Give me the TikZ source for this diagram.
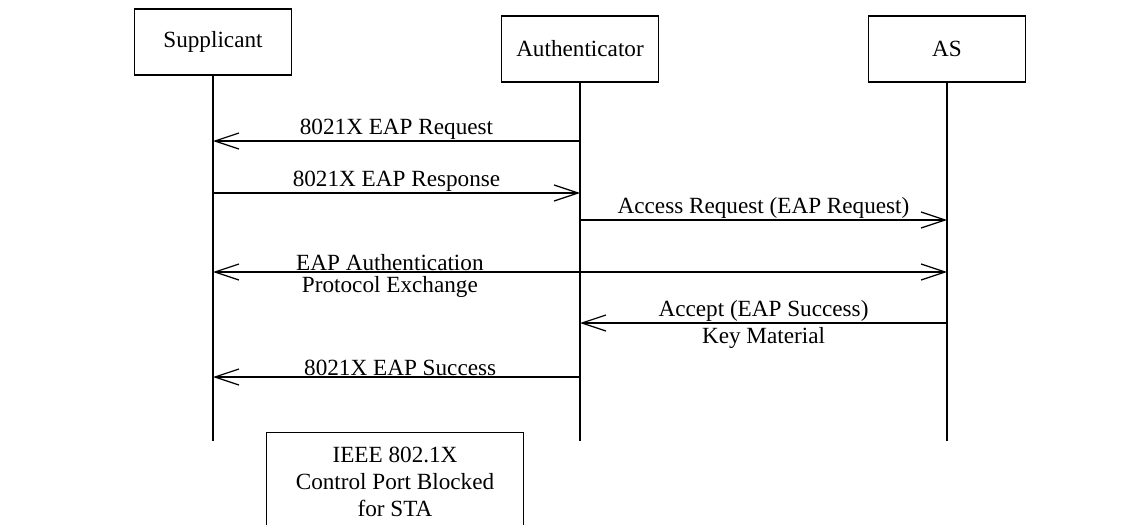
\documentclass[tikz,border=0pt]{standalone}
\usepackage{fontspec}
\setmainfont{Liberation Serif}
\usetikzlibrary{arrows.meta}
\usetikzlibrary{positioning}
\tikzset{
  actor/.style={draw, line width=0.7pt, minimum width=3.14cm, minimum height=1.32cm, font=\fontsize{13.2}{15.3}\selectfont},
  life/.style={line width=0.7pt},
  msg/.style={line width=0.7pt, -{Straight Barb[length=4.8mm,width=3.2mm]}},
  dmsg/.style={line width=0.7pt, {Straight Barb[length=4.8mm,width=3.2mm]}-{Straight Barb[length=4.8mm,width=3.2mm]}},
  up/.style={font=\fontsize{13.2}{15.3}\selectfont, inner sep=0.5pt, above},
  down/.style={font=\fontsize{13.2}{15.3}\selectfont, inner sep=2pt, below}
}

\begin{document}
\begin{tikzpicture}[x=0.02cm, y=-0.02cm]
\clip (0,0) rectangle (1145,524);
% the three parties
\node[actor] (sup) at (213,42) {Supplicant};
\node[actor] (auth) at (580,49) {Authenticator};
\node[actor] (as) at (947,49) {AS};
\coordinate (supend) at (213,441);
\coordinate (authend) at (580,441);
\coordinate (asend) at (947,441);
\draw[life] (sup) -- (supend);
\draw[life] (auth) -- (authend);
\draw[life] (as) -- (asend);
% points on the lifelines, one row per message
\foreach \r/\y in {1/141,2/193,3/220,4/272,5/323,6/377} {
  \coordinate (s\r) at (213,\y);
  \coordinate (a\r) at (580,\y);
  \coordinate (r\r) at (947,\y);
}
\draw[msg] (a1) -- node[up]{8021X EAP Request} (s1);
\draw[msg] (s2) -- node[up]{8021X EAP Response} (a2);
\draw[msg] (a3) -- node[up]{Access Request (EAP Request)} (r3);
\draw[dmsg] (s4) -- node[pos=.241,up]{EAP Authentication} node[pos=.241,down]{Protocol Exchange} (r4);
\draw[msg] (r5) -- node[up]{Accept (EAP Success)} node[down]{Key Material} (a5);
\draw[msg] (a6) -- node[pos=.49,up]{8021X EAP Success} (s6);
% port state, runs off the bottom edge
\node[draw, line width=0.7pt, anchor=north, align=center, minimum width=5.14cm, minimum height=1.98cm,
  font=\fontsize{13.2}{15.3}\selectfont] (port) at (395,432)
  {IEEE 802.1X\\Control Port Blocked\\for STA};
\end{tikzpicture}
\end{document}
